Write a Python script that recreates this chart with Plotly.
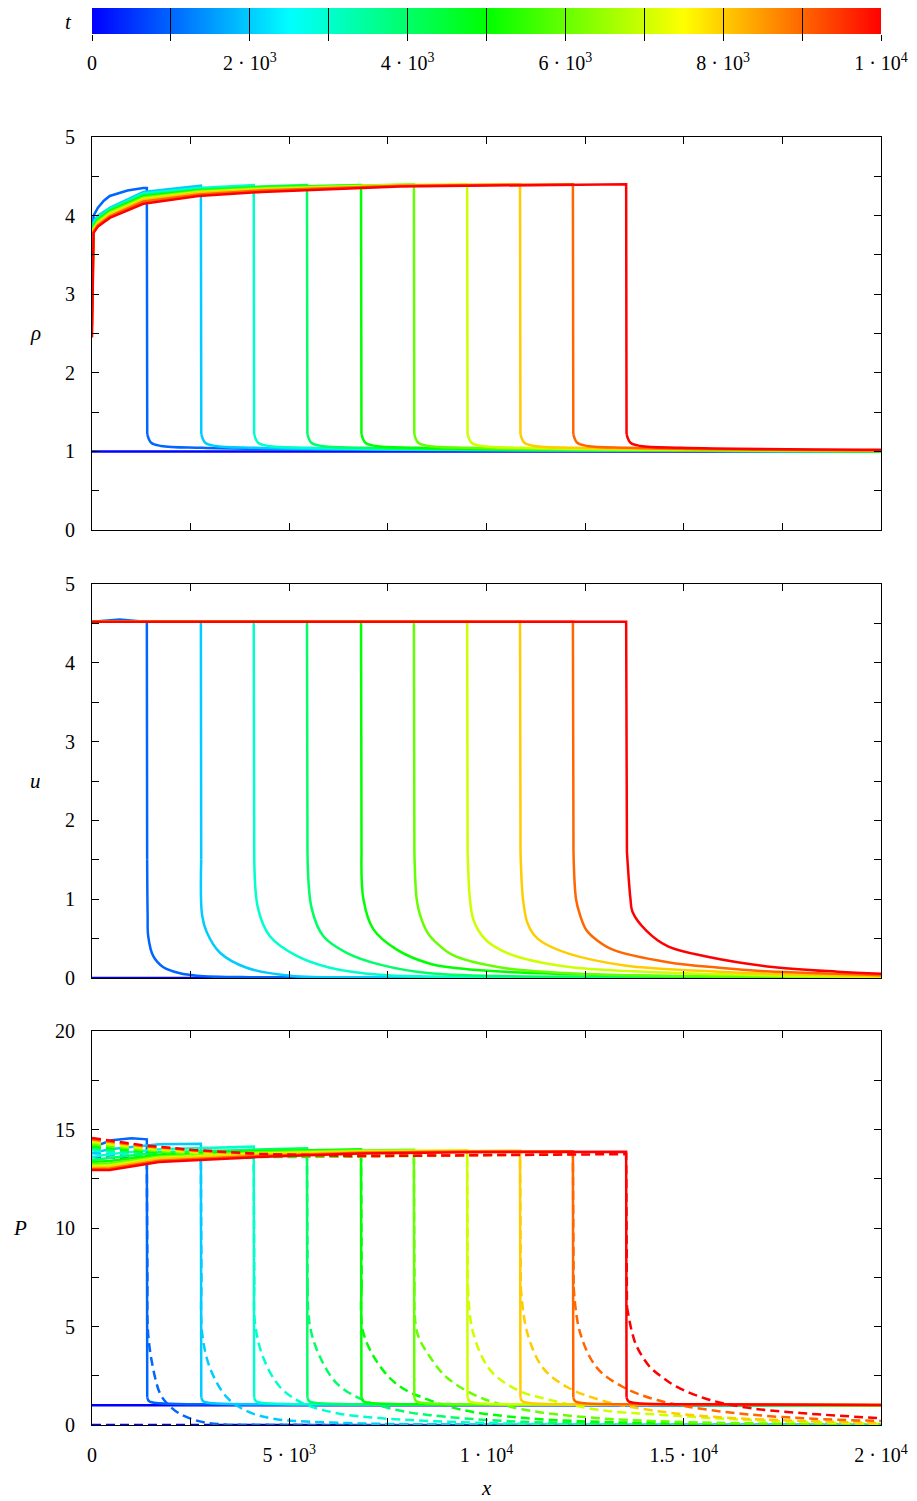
import plotly.graph_objects as go
from plotly.colors import sample_colorscale

# ---------------- data ----------------
TIMES = [0, 1000, 2000, 3000, 4000, 5000, 6000, 7000, 8000, 9000, 10000]
T_MAX = 10000

COLORSCALE = [[0.0, "rgb(0,0,255)"], [0.25, "rgb(0,255,255)"], [0.5, "rgb(0,255,0)"],
              [0.75, "rgb(255,255,0)"], [1.0, "rgb(255,0,0)"]]

CB_TICKS = [0, 2000, 4000, 6000, 8000, 10000]
CB_LABELS = ["0", "2 · 10<sup>3</sup>", "4 · 10<sup>3</sup>", "6 · 10<sup>3</sup>",
             "8 · 10<sup>3</sup>", "1 · 10<sup>4</sup>"]
CB_MINOR = [1000, 3000, 5000, 7000, 9000]
CB_ALL = [0, 1000, 2000, 3000, 4000, 5000, 6000, 7000, 8000, 9000, 10000]

X_TICKS = [0, 5000, 10000, 15000, 20000]
X_LABELS = ["0", "5 · 10<sup>3</sup>", "1 · 10<sup>4</sup>", "1.5 · 10<sup>4</sup>", "2 · 10<sup>4</sup>"]
X_MINOR = [2500, 7500, 12500, 17500]
RU_TICKS = [0, 1, 2, 3, 4, 5]
RU_LABELS = ["0", "1", "2", "3", "4", "5"]
RU_MINOR = [0.5, 1.5, 2.5, 3.5, 4.5]
P_TICKS = [0, 5, 10, 15, 20]
P_LABELS = ["0", "5", "10", "15", "20"]
P_MINOR = [2.5, 7.5, 12.5, 17.5]

RHO_X = [
    [0, 20000],
    [0, 40, 150, 300, 450, 900, 1300, 1390, 1400, 1500, 1750, 2790, 6400, 20000],
    [0, 40, 150, 450, 1300, 2700, 2760, 2770, 2870, 3120, 4160, 7800, 20000],
    [0, 40, 150, 450, 1300, 2700, 4100, 4110, 4210, 4460, 5500, 9100, 20000],
    [0, 40, 150, 450, 1300, 2700, 4300, 5450, 5460, 5560, 5810, 6850, 10400, 20000],
    [0, 40, 150, 450, 1300, 2700, 4300, 6820, 6830, 6930, 7180, 8220, 11800, 20000],
    [0, 40, 150, 450, 1300, 2700, 4300, 7800, 8160, 8170, 8270, 8520, 9560, 13200, 20000],
    [0, 40, 150, 450, 1300, 2700, 4300, 7800, 9510, 9520, 9620, 9870, 10910, 14500, 20000],
    [0, 40, 150, 450, 1300, 2700, 4300, 7800, 10850, 10860, 10960, 11210, 12250, 15850, 20000],
    [0, 40, 150, 450, 1300, 2700, 4300, 7800, 12190, 12200, 12300, 12550, 13590, 17200, 20000],
    [0, 40, 150, 450, 1300, 2700, 4300, 7800, 13540, 13550, 13650, 13900, 14940, 20000],
]
RHO_Y = [
    [1.0, 1.0],
    [3.55, 4.00, 4.10, 4.19, 4.25, 4.32, 4.35, 4.35, 1.22, 1.11, 1.07, 1.045, 1.02, 1.0],
    [3.45, 3.93, 4.00, 4.10, 4.30, 4.37, 4.38, 1.22, 1.11, 1.07, 1.045, 1.02, 1.0],
    [3.35, 3.90, 3.98, 4.085, 4.28, 4.35, 4.39, 1.22, 1.11, 1.07, 1.045, 1.02, 1.0],
    [3.2, 3.88, 3.96, 4.07, 4.26, 4.33, 4.37, 4.39, 1.22, 1.11, 1.07, 1.045, 1.02, 1.0],
    [3.1, 3.86, 3.94, 4.055, 4.245, 4.32, 4.36, 4.39, 1.22, 1.11, 1.07, 1.045, 1.02, 1.0],
    [3.0, 3.85, 3.93, 4.04, 4.23, 4.31, 4.35, 4.39, 4.40, 1.22, 1.11, 1.07, 1.045, 1.02, 1.005],
    [2.9, 3.83, 3.91, 4.025, 4.215, 4.30, 4.34, 4.39, 4.40, 1.22, 1.11, 1.07, 1.045, 1.02, 1.008],
    [2.75, 3.82, 3.90, 4.01, 4.20, 4.29, 4.33, 4.38, 4.40, 1.22, 1.11, 1.07, 1.045, 1.02, 1.01],
    [2.6, 3.80, 3.88, 3.99, 4.18, 4.27, 4.32, 4.38, 4.40, 1.22, 1.11, 1.07, 1.045, 1.02, 1.012],
    [2.45, 3.78, 3.86, 3.97, 4.15, 4.25, 4.30, 4.37, 4.40, 1.22, 1.11, 1.07, 1.045, 1.02],
]

U_X = [
    [0, 20000],
    [0, 700, 1390, 1398, 1410, 1425, 1550, 1800, 2230, 2660, 4000, 20000],
    [0, 2760, 2768, 2790, 2910, 3245, 3920, 5020, 8000, 20000],
    [0, 4100, 4112, 4210, 4510, 5190, 6030, 7300, 11000, 20000],
    [0, 5450, 5462, 5570, 5865, 6455, 7300, 8570, 12000, 20000],
    [0, 6820, 6832, 6880, 7130, 7725, 8570, 9150, 10850, 14000, 20000],
    [0, 8160, 8172, 8230, 8315, 8500, 8745, 9150, 10400, 12500, 16000, 20000],
    [0, 9510, 9522, 9580, 9660, 9800, 10010, 10340, 10850, 12100, 14500, 17500, 20000],
    [0, 10850, 10862, 10925, 11030, 11200, 11430, 12080, 13500, 15900, 17100, 20000],
    [0, 12190, 12205, 12270, 12370, 12530, 12800, 13200, 14600, 15900, 17100, 20000],
    [0, 13540, 13560, 13650, 13700, 14050, 14600, 15600, 17250, 18900, 20000],
]
U_Y = [
    [0.0, 0.0],
    [4.52, 4.55, 4.52, 1.5, 0.8, 0.53, 0.28, 0.14, 0.06, 0.03, 0.01, 0.0],
    [4.52, 4.52, 1.5, 0.8, 0.58, 0.32, 0.13, 0.03, 0.01, 0.0],
    [4.52, 4.52, 1.6, 0.88, 0.53, 0.28, 0.13, 0.04, 0.01, 0.0],
    [4.52, 4.52, 1.6, 0.88, 0.53, 0.32, 0.17, 0.06, 0.015, 0.003],
    [4.52, 4.52, 1.6, 1.0, 0.62, 0.36, 0.18, 0.13, 0.07, 0.03, 0.01],
    [4.52, 4.52, 1.6, 1.0, 0.8, 0.58, 0.44, 0.29, 0.13, 0.05, 0.02, 0.01],
    [4.52, 4.52, 1.6, 1.0, 0.75, 0.6, 0.47, 0.36, 0.26, 0.14, 0.07, 0.03, 0.015],
    [4.52, 4.52, 1.6, 1.0, 0.71, 0.55, 0.45, 0.31, 0.16, 0.08, 0.055, 0.025],
    [4.52, 4.52, 1.6, 1.0, 0.8, 0.61, 0.48, 0.36, 0.2, 0.13, 0.085, 0.035],
    [4.52, 4.52, 1.6, 1.0, 0.84, 0.6, 0.4, 0.27, 0.14, 0.08, 0.055],
]

P_X = [
    [0, 20000],
    [0, 500, 1000, 1390, 1400, 1450, 1700, 2900, 20000],
    [0, 450, 1700, 2760, 2770, 2820, 3060, 4260, 20000],
    [0, 450, 1700, 4100, 4110, 4160, 4400, 5600, 20000],
    [0, 450, 1700, 4200, 5450, 5460, 5510, 5750, 6950, 20000],
    [0, 450, 1700, 4200, 6820, 6830, 6880, 7120, 8320, 20000],
    [0, 450, 1700, 4200, 6800, 8160, 8170, 8220, 8460, 9660, 20000],
    [0, 450, 1700, 4200, 6800, 9510, 9520, 9570, 9810, 11010, 20000],
    [0, 450, 1700, 4200, 6800, 9500, 10850, 10860, 10910, 11150, 12350, 20000],
    [0, 450, 1700, 4200, 6800, 9500, 12190, 12200, 12250, 12490, 13690, 20000],
    [0, 450, 1700, 4200, 6800, 9500, 13540, 13550, 13600, 13840, 15040, 20000],
]
P_Y = [
    [1.0, 1.0],
    [14.1, 14.45, 14.55, 14.5, 1.4, 1.2, 1.1, 1.05, 1.0],
    [13.8, 14.0, 14.25, 14.28, 1.4, 1.2, 1.1, 1.05, 1.0],
    [13.6, 13.75, 14.0, 14.13, 1.4, 1.2, 1.1, 1.05, 1.0],
    [13.45, 13.55, 13.85, 13.98, 14.05, 1.4, 1.2, 1.1, 1.05, 1.0],
    [13.35, 13.4, 13.72, 13.9, 14.0, 1.4, 1.2, 1.1, 1.05, 1.0],
    [13.25, 13.28, 13.63, 13.84, 13.93, 13.97, 1.4, 1.2, 1.1, 1.05, 1.0],
    [13.15, 13.18, 13.56, 13.78, 13.9, 13.95, 1.4, 1.2, 1.1, 1.05, 1.01],
    [13.08, 13.1, 13.5, 13.72, 13.86, 13.91, 13.92, 1.4, 1.2, 1.1, 1.05, 1.01],
    [13.0, 13.02, 13.42, 13.66, 13.82, 13.88, 13.9, 1.4, 1.2, 1.1, 1.05, 1.02],
    [12.95, 12.95, 13.35, 13.6, 13.78, 13.85, 13.87, 1.4, 1.2, 1.1, 1.05, 1.02],
]

PD_X = [
    [0, 20000],
    [0, 700, 1390, 1405, 1420, 1546, 1724, 1900, 2200, 2660, 3200, 5000, 20000],
    [0, 1300, 2760, 2775, 2790, 2990, 3420, 3930, 4600, 6460, 9000, 20000],
    [0, 1300, 2700, 4100, 4115, 4130, 4335, 4765, 5350, 6210, 7300, 8570, 11000, 20000],
    [0, 1300, 2700, 5450, 5465, 5526, 5780, 6210, 6870, 7730, 8570, 10500, 14000, 20000],
    [0, 1300, 2700, 4300, 6820, 6835, 6870, 7260, 7770, 8500, 9400, 11000, 14000, 20000],
    [0, 1300, 2700, 4300, 8160, 8175, 8240, 8570, 9000, 9835, 10900, 12500, 15000, 20000],
    [0, 1300, 2700, 4300, 6800, 9510, 9530, 9658, 10090, 10775, 11610, 12880, 14575, 16680, 20000],
    [0, 1300, 2700, 4300, 6800, 10850, 10870, 11030, 11430, 12040, 12880, 14145, 15845, 20000],
    [0, 1300, 2700, 4300, 6800, 12190, 12210, 12370, 12800, 13460, 14320, 15665, 17520, 20000],
    [0, 1300, 2560, 4260, 6790, 10000, 13540, 13560, 13690, 13815, 14145, 14475, 14830, 15665, 16680, 17950, 20000],
]
PD_Y = [
    [0.0, 0.0],
    [13.6, 13.55, 13.5, 7.0, 4.7, 2.9, 1.6, 1.1, 0.6, 0.22, 0.05, 0.01, 0.0],
    [13.8, 13.6, 13.55, 7.0, 4.7, 2.9, 1.4, 0.7, 0.32, 0.1, 0.03, 0.0],
    [13.95, 13.7, 13.55, 13.55, 7.0, 5.2, 3.45, 1.93, 1.1, 0.6, 0.35, 0.2, 0.06, 0.005],
    [14.05, 13.8, 13.6, 13.6, 7.0, 5.0, 3.45, 2.1, 1.27, 0.76, 0.5, 0.2, 0.05, 0.01],
    [14.15, 13.88, 13.68, 13.62, 13.62, 7.0, 4.75, 3.1, 2.0, 1.3, 0.76, 0.35, 0.1, 0.02],
    [14.25, 13.96, 13.74, 13.65, 13.65, 7.0, 4.7, 3.45, 2.4, 1.4, 0.8, 0.4, 0.15, 0.04],
    [14.35, 14.04, 13.81, 13.68, 13.65, 13.68, 7.0, 4.7, 2.8, 1.78, 1.27, 0.76, 0.5, 0.25, 0.06],
    [14.45, 14.12, 13.88, 13.72, 13.66, 13.72, 7.0, 4.7, 2.9, 1.93, 1.27, 0.76, 0.4, 0.1],
    [14.5, 14.16, 13.92, 13.74, 13.65, 13.74, 7.0, 4.7, 2.9, 1.93, 1.27, 0.76, 0.4, 0.2],
    [14.57, 14.2, 13.96, 13.76, 13.65, 13.7, 13.75, 6.0, 4.7, 3.96, 2.94, 2.4, 1.93, 1.27, 0.86, 0.61, 0.34],
]

# ---------------- figure ----------------
W, H = 917, 1501
OFF = 8  # default page body margin
FONT = "Liberation Serif"
COLORS = sample_colorscale(COLORSCALE, [t / T_MAX for t in TIMES])
LW = 2.5
DASH = "9px,5px"

fig = go.Figure()

# colour bar as a smooth heatmap strip
fig.add_trace(go.Heatmap(x=CB_ALL, y=[0], z=[CB_ALL], colorscale=COLORSCALE,
                         zmin=0, zmax=T_MAX, zsmooth="best", showscale=False,
                         hoverinfo="skip", xaxis="x4", yaxis="y4"))
fig.add_trace(go.Scatter(x=[CB_ALL[0]], y=[0], mode="markers", marker=dict(opacity=0),
                         hoverinfo="skip", showlegend=False, xaxis="x5", yaxis="y4"))


def split_at_drop(xs, ys):
    """Return (head, tail): head is drawn straight up to the bottom of the shock drop,
    tail (the relaxation after the shock) is drawn as a smooth curve."""
    drops = [ys[i] - ys[i + 1] for i in range(len(ys) - 1)]
    i = max(range(len(drops)), key=lambda j: drops[j])
    if drops[i] <= 0:
        return (xs, ys), None
    return (xs[:i + 2], ys[:i + 2]), (xs[i + 1:], ys[i + 1:])


def add_curve(xs, ys, color, xa, ya, dash=None):
    head, tail = split_at_drop(xs, ys)
    line = dict(color=color, width=LW)
    if dash:
        line["dash"] = dash
    fig.add_trace(go.Scatter(x=head[0], y=head[1], mode="lines", line=line,
                             showlegend=False, hoverinfo="skip", xaxis=xa, yaxis=ya))
    if tail is not None and len(tail[0]) > 1:
        fig.add_trace(go.Scatter(x=tail[0], y=tail[1], mode="lines",
                                 line=dict(line, shape="spline", smoothing=1.0),
                                 showlegend=False, hoverinfo="skip", xaxis=xa, yaxis=ya))


for k in range(len(TIMES)):
    add_curve(RHO_X[k], RHO_Y[k], COLORS[k], "x", "y")
for k in range(len(TIMES)):
    add_curve(U_X[k], U_Y[k], COLORS[k], "x2", "y2")
for k in range(len(TIMES)):
    add_curve(P_X[k], P_Y[k], COLORS[k], "x3", "y3")
    add_curve(PD_X[k], PD_Y[k], COLORS[k], "x3", "y3", dash=DASH)


def dom(top_px, bot_px):
    top = max(top_px - OFF, 0)
    return [1 - (bot_px - OFF) / H, 1 - top / H]


tickfont = dict(family=FONT, size=20, color="black")


def axis_style(minor_vals):
    return dict(showline=True, linecolor="black", linewidth=1, mirror="allticks",
                ticks="inside", ticklen=7, tickwidth=1, tickcolor="black",
                showgrid=False, zeroline=False, tickfont=tickfont, ticklabelstandoff=12,
                minor=dict(tickmode="array", tickvals=minor_vals, ticks="inside", ticklen=7,
                           tickwidth=1, tickcolor="black", showgrid=False))


x_range = [X_TICKS[0], X_TICKS[-1]]
fig.update_layout(
    width=W, height=H,
    margin=dict(l=92 - OFF, r=917 - 881 + OFF, t=0, b=0, autoexpand=False),
    paper_bgcolor="white", plot_bgcolor="white",
    xaxis=dict(domain=[0, 1], anchor="y", range=x_range, tickvals=X_TICKS,
               showticklabels=False, **axis_style(X_MINOR)),
    yaxis=dict(domain=dom(137, 530), anchor="x", range=[0, 5], tickvals=RU_TICKS,
               ticktext=RU_LABELS, **axis_style(RU_MINOR)),
    xaxis2=dict(domain=[0, 1], anchor="y2", range=x_range, tickvals=X_TICKS,
                showticklabels=False, **axis_style(X_MINOR)),
    yaxis2=dict(domain=dom(584, 978), anchor="x2", range=[0, 5], tickvals=RU_TICKS,
                ticktext=RU_LABELS, **axis_style(RU_MINOR)),
    xaxis3=dict(domain=[0, 1], anchor="y3", range=x_range, tickvals=X_TICKS,
                ticktext=X_LABELS, **axis_style(X_MINOR)),
    yaxis3=dict(domain=dom(1031, 1425), anchor="x3", range=[0, 20], tickvals=P_TICKS,
                ticktext=P_LABELS, **axis_style(P_MINOR)),
    xaxis4=dict(domain=[0, 1], anchor="y4", range=[0, T_MAX], tickvals=CB_TICKS,
                ticktext=CB_LABELS, ticks="outside", ticklen=6, tickwidth=1, tickcolor="black",
                minor=dict(tickmode="array", tickvals=CB_MINOR, ticks="outside", ticklen=6,
                           tickwidth=1, tickcolor="black", showgrid=False),
                showline=False, showgrid=False, zeroline=False, tickfont=tickfont,
                ticklabelstandoff=5),
    xaxis5=dict(overlaying="x4", anchor="y4", side="top", range=[0, T_MAX], tickvals=CB_ALL,
                ticks="inside", ticklen=27, tickwidth=1, tickcolor="black",
                showticklabels=False, showline=False, showgrid=False, zeroline=False),
    yaxis4=dict(domain=dom(5, 34), anchor="x4", range=[-0.5, 0.5], showticklabels=False,
                ticks="", showline=False, showgrid=False, zeroline=False),
)

ann_font = dict(family=FONT, size=21, color="black")
annotations = [
    dict(text="<i>t</i>", xref="x4 domain", yref="y4 domain", x=-0.030, y=0.45),
    dict(text="<i>ρ</i>", xref="x domain", yref="y domain", x=-0.072, y=0.5),
    dict(text="<i>u</i>", xref="x2 domain", yref="y2 domain", x=-0.072, y=0.5),
    dict(text="<i>P</i>", xref="x3 domain", yref="y3 domain", x=-0.091, y=0.5),
    dict(text="<i>x</i>", xref="x3 domain", yref="y3 domain", x=0.5, y=-0.16),
]
for a in annotations:
    fig.add_annotation(showarrow=False, xanchor="center", yanchor="middle", font=ann_font, **a)

fig.write_html("out.html")
